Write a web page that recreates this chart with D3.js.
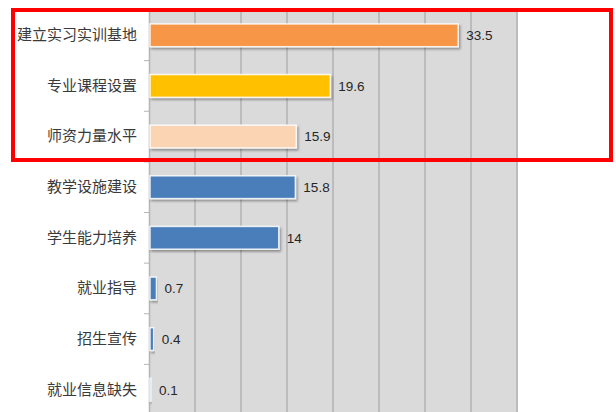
<!DOCTYPE html>
<html>
<head>
<meta charset="utf-8">
<script src="https://cdn.jsdelivr.net/npm/d3@7"></script>
<style>
  body { margin: 0; background: #fff; }
  svg { display: block; }
</style>
</head>
<body>
<div id="plot"></div>
<script>
// chart data
const categories = ["建立实习实训基地", "专业课程设置", "师资力量水平", "教学设施建设",
                    "学生能力培养", "就业指导", "招生宣传", "就业信息缺失"];
const values = [33.5, 19.6, 15.9, 15.8, 14, 0.7, 0.4, 0.1];
const barColors = ["#f79646", "#ffc000", "#fbd4b4", "#4a7ebb",
                   "#4a7ebb", "#4a7ebb", "#4a7ebb", "#4a7ebb"];
const xTicks = [0, 5, 10, 15, 20, 25, 30, 35, 40];

const W = 616, H = 412;
const plot = {left: 149, right: 517, top: 10, bottom: 415};

const svg = d3.select("div#plot")
  .append("svg")
    .attr("width", W)
    .attr("height", H);

const defs = svg.append("defs");
const shadow = defs.append("filter").attr("id", "shadow")
    .attr("x", "-5%").attr("y", "-30%").attr("width", "115%").attr("height", "170%");
shadow.append("feDropShadow")
    .attr("dx", 1.5).attr("dy", 2).attr("stdDeviation", 1.2)
    .attr("flood-color", "#000").attr("flood-opacity", 0.35);

const x = d3.scaleLinear()
    .domain([0, 40])
    .range([plot.left, plot.right]);

const y = d3.scaleBand()
    .domain(categories)
    .range([plot.top, plot.bottom])
    .paddingInner(0.55)
    .paddingOuter(0.275);

// plot background
svg.append("rect")
    .attr("x", plot.left)
    .attr("y", plot.top)
    .attr("width", plot.right - plot.left)
    .attr("height", H - plot.top)
    .attr("fill", "#dadada");

// vertical gridlines
svg.append("g")
  .selectAll("line")
  .data(xTicks.slice(1))
  .join("line")
    .attr("x1", d => x(d))
    .attr("x2", d => x(d))
    .attr("y1", plot.top)
    .attr("y2", H)
    .attr("stroke", "#bcbcbc")
    .attr("stroke-width", 2);

// category axis
const yAxis = svg.append("g")
    .attr("transform", `translate(${plot.left},0)`)
    .call(d3.axisLeft(y).tickSize(0).tickPadding(12));

yAxis.select(".domain").attr("stroke", "#b5b5b5").attr("stroke-width", 1.5);
yAxis.selectAll("text")
    .attr("font-family", "'Noto Sans CJK SC', sans-serif")
    .attr("font-size", 15)
    .attr("fill", "#3a3a3a");

// small ticks between categories
const step = y.step();
svg.append("g")
  .selectAll("line")
  .data(categories.slice(1))
  .join("line")
    .attr("x1", plot.left - 5)
    .attr("x2", plot.left)
    .attr("y1", d => y(d) - step * y.paddingInner() / 2)
    .attr("y2", d => y(d) - step * y.paddingInner() / 2)
    .attr("stroke", "#b5b5b5")
    .attr("stroke-width", 1);

// bars
svg.append("g")
  .selectAll("rect")
  .data(values)
  .join("rect")
    .attr("x", x(0) + 1)
    .attr("y", (d, i) => y(categories[i]))
    .attr("width", d => Math.max(x(d) - x(0), 1))
    .attr("height", y.bandwidth())
    .attr("fill", (d, i) => barColors[i])
    .attr("stroke", "#ffffff")
    .attr("stroke-opacity", 0.85)
    .attr("stroke-width", 1.5)
    .attr("filter", "url(#shadow)");

// value labels
svg.append("g")
  .selectAll("text")
  .data(values)
  .join("text")
    .attr("x", d => x(d) + 9)
    .attr("y", (d, i) => y(categories[i]) + y.bandwidth() / 2)
    .attr("dy", "0.36em")
    .attr("font-family", "'Liberation Sans', sans-serif")
    .attr("font-size", 13.5)
    .attr("fill", "#262626")
    .text(d => d);

// red highlight box round the top three
svg.append("rect")
    .attr("x", 13)
    .attr("y", 10)
    .attr("width", 598)
    .attr("height", 150)
    .attr("fill", "none")
    .attr("stroke", "#ff0000")
    .attr("stroke-width", 4);
</script>
</body>
</html>
